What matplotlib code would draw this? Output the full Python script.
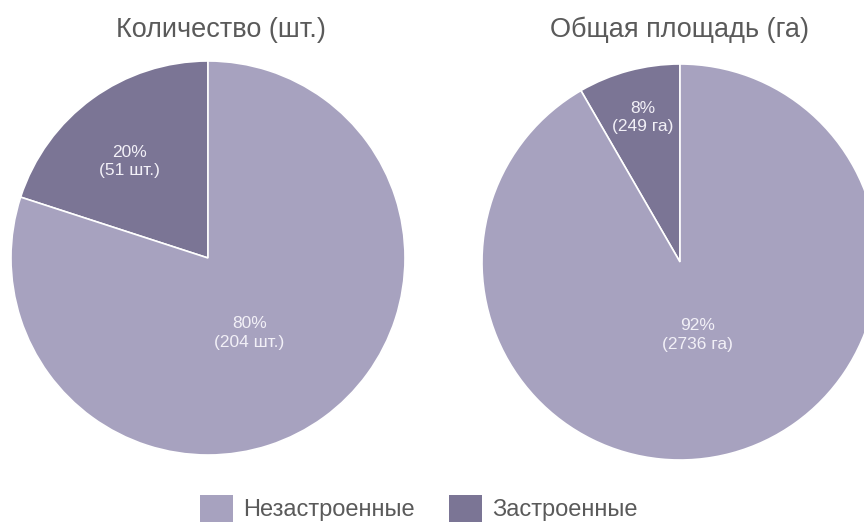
import matplotlib.pyplot as plt
from matplotlib.patches import Patch

# Land plots: built-up vs. vacant
categories = ['Незастроенные', 'Застроенные']
titles = ['Количество (шт.)', 'Общая площадь (га)']
units = ['шт.', 'га']
counts = [204, 51]       # plots, pcs
areas = [2736, 249]      # total area, ha

colors = ['#a7a2bf', '#7b7595']
text_grey = '#5a5a5a'

plt.rcParams['font.family'] = ['Liberation Sans', 'DejaVu Sans']

fig = plt.figure(figsize=(8.64, 5.25), dpi=100)
W, H = 864, 525


def pie_axes(cx, cy, r):
    # axes box in figure fraction so that data radius 1 == r pixels
    return fig.add_axes([(cx - r) / W, (H - cy - r) / H, 2 * r / W, 2 * r / H])


def draw_pie(ax, values, unit, label_pos):
    # built-up goes first, starting at 12 o'clock, counter-clockwise
    vals = [values[1], values[0]]
    cols = [colors[1], colors[0]]
    ax.pie(vals, colors=cols, startangle=90, counterclock=True,
           wedgeprops=dict(edgecolor='white', linewidth=1.2))
    ax.set_xlim(-1, 1)
    ax.set_ylim(-1, 1)
    ax.set_aspect('auto')
    total = sum(vals)
    for v, (x, y) in zip(vals, label_pos):
        ax.text(x, y, f'{round(100 * v / total)}%\n({v} {unit})',
                ha='center', va='center', color='#f2f0f7', fontsize=12.5,
                linespacing=1.3)


ax1 = pie_axes(208, 258, 197)
draw_pie(ax1, counts, units[0], [(-0.40, 0.49), (0.21, -0.38)])

ax2 = pie_axes(680, 262, 198)
draw_pie(ax2, areas, units[1], [(-0.19, 0.73), (0.09, -0.37)])

for x, t in zip([221, 680], titles):
    fig.text(x / W, 1 - 30 / H, t, ha='center', va='center',
             color=text_grey, fontsize=19.5)

handles = [Patch(facecolor=c, edgecolor='none') for c in colors]
fig.legend(handles, categories, loc='lower center', bbox_to_anchor=(0.485, -0.035),
           ncol=2, frameon=False, handlelength=1.4, handleheight=1.4,
           handletextpad=0.42, columnspacing=1.45,
           prop=dict(size=17), labelcolor=text_grey)

fig.savefig('out.png', dpi=100, facecolor='white')
